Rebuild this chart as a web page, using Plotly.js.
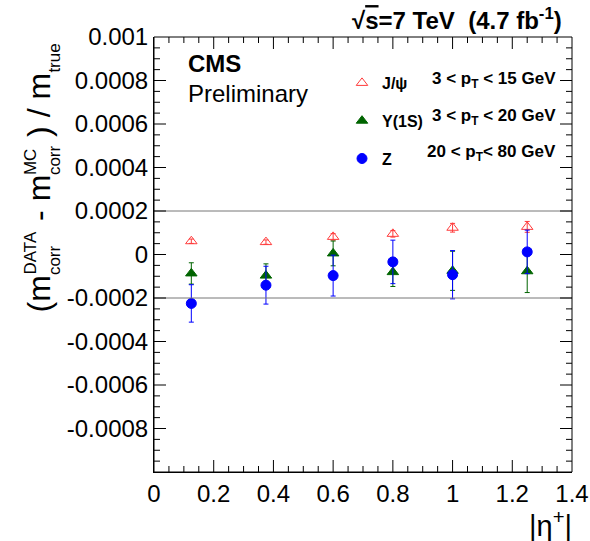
<!DOCTYPE html>
<html>
<head>
<meta charset="utf-8">
<script src="https://cdn.plot.ly/plotly-3.0.1.min.js"></script>
<style>
html, body { margin: 0; padding: 0; background: #fff; }
#chart { width: 590px; height: 541px; }
</style>
</head>
<body>
<div id="chart"></div>
<script>
// ---- data (values in units of 1e-4 are converted below) ----
const etaCenters = [0.125, 0.375, 0.6, 0.8, 1.0, 1.25];
const jpsiVals = [0.61, 0.57, 0.81, 0.95, 1.23, 1.27];
const jpsiErrs = [0.10, 0.10, 0.15, 0.15, 0.20, 0.25];
const upsVals = [-0.87, -0.97, 0.05, -0.81, -0.75, -0.77];
const upsErrs = [0.49, 0.54, 0.57, 0.66, 0.90, 0.98];
const zVals = [-2.25, -1.41, -0.97, -0.34, -0.93, 0.12];
const zErrs = [0.86, 0.87, 0.94, 1.00, 1.11, 1.00];
const valueScale = 1e-4;

const seriesNames = ['J/ψ', 'Υ(1S)', 'Z'];
const seriesRanges = ['3 < p<sub>T</sub> < 15 GeV', '3 < p<sub>T</sub> < 20 GeV', '20 < p<sub>T</sub>< 80 GeV'];

const xRange = [0, 1.4];
const yRange = [-0.001, 0.001];
const xTickVals = [0, 0.2, 0.4, 0.6, 0.8, 1, 1.2, 1.4];
const xTickText = ['0', '0.2', '0.4', '0.6', '0.8', '1', '1.2', '1.4'];
const yTickVals = [0.001, 0.0008, 0.0006, 0.0004, 0.0002, 0, -0.0002, -0.0004, -0.0006, -0.0008];
const yTickText = ['0.001', '0.0008', '0.0006', '0.0004', '0.0002', '0', '-0.0002', '-0.0004', '-0.0006', '-0.0008'];
const bandLimits = [0.0002, -0.0002];

// ---- layout geometry ----
const W = 590, H = 541;
const M = { l: 154, r: 18, t: 37, b: 69 };
const PW = W - M.l - M.r, PH = H - M.t - M.b;
const px = x => (x - M.l) / PW;
const py = y => (H - M.b - y) / PH;
const FONT = 'Liberation Sans, Arial, Helvetica, sans-serif';

const scale = a => a.map(v => v * valueScale);

function series(name, vals, errs, color, symbol, size) {
  return {
    type: 'scatter', mode: 'markers', name: '<b>' + name + '</b>',
    x: etaCenters, y: scale(vals),
    error_y: { type: 'data', array: scale(errs), visible: true, color: color, thickness: 1, width: 2.5 },
    marker: { color: color, symbol: symbol, size: size, line: { color: color, width: 1 } },
    legendgroup: name
  };
}

const traces = [
  series(seriesNames[0], jpsiVals, jpsiErrs, '#ff3b3b', 'triangle-up-open', 10),
  series(seriesNames[1], upsVals, upsErrs, '#006400', 'triangle-up', 10),
  series(seriesNames[2], zVals, zErrs, '#0000ff', 'circle', 10)
];

// y-axis title built from pieces (ROOT-style stacked sub/superscripts)
const MAINFS = 32, SUBFS = 17;
const mainX = 50 - 0.347 * MAINFS, subX = 60 - 0.347 * SUBFS, supX = 36 - 0.347 * SUBFS;
const titlePieces = [
  ['(m', 313, MAINFS, mainX],
  ['corr', 276, SUBFS, subX],
  ['DATA', 276, SUBFS, supX],
  ['- m', 222, MAINFS, mainX],
  ['corr', 176, SUBFS, subX],
  ['MC', 176, SUBFS, supX],
  [') / m', 138, MAINFS, mainX],
  ['true', 74, SUBFS, subX]
];

const annotations = titlePieces.map(p => ({
  xref: 'paper', yref: 'paper', x: px(p[3]), y: py(p[1]),
  xanchor: 'center', yanchor: 'bottom', textangle: -90,
  text: p[0], showarrow: false, borderpad: 0,
  font: { family: FONT, size: p[2], color: '#000' }
}));

annotations.push(
  { xref: 'paper', yref: 'paper', x: px(187), y: py(63.6), xanchor: 'left', yanchor: 'middle',
    text: '<b>CMS</b>', showarrow: false, borderpad: 0, font: { family: FONT, size: 24, color: '#000' } },
  { xref: 'paper', yref: 'paper', x: px(187), y: py(93.3), xanchor: 'left', yanchor: 'middle',
    text: 'Preliminary', showarrow: false, borderpad: 0, font: { family: FONT, size: 24, color: '#000' } },
  { xref: 'paper', yref: 'paper', x: px(573), y: py(524), xanchor: 'right', yanchor: 'middle',
    text: '|η<sup>+</sup>|', showarrow: false, borderpad: 0, font: { family: FONT, size: 29, color: '#000' } },
  { xref: 'paper', yref: 'paper', x: px(563), y: py(19), xanchor: 'right', yanchor: 'middle',
    text: '<b>√<span style="text-decoration:overline">s</span>=7 TeV\u00a0\u00a0(4.7 fb<sup>-1</sup>)</b>',
    showarrow: false, borderpad: 0, font: { family: FONT, size: 24, color: '#000' } }
);

const rowY = [80, 116.5, 153];
seriesRanges.forEach((t, i) => annotations.push({
  xref: 'paper', yref: 'paper', x: px(557), y: py(rowY[i]), xanchor: 'right', yanchor: 'middle',
  text: '<b>' + t + '</b>', showarrow: false, borderpad: 0, font: { family: FONT, size: 17, color: '#000' }
}));

// reference band lines
const shapes = bandLimits.map(v => ({
  type: 'line', xref: 'paper', yref: 'y', x0: 0, x1: 1, y0: v, y1: v,
  line: { color: '#777', width: 1 }
}));

// ROOT-style frame with inside ticks on all four sides
const MAJ = 12, MIN = 6;
const tickLine = { color: '#000', width: 1 };
function xTick(v, len) {
  const f = len / PH;
  shapes.push({ type: 'line', xref: 'x', yref: 'paper', x0: v, x1: v, y0: 0, y1: f, line: tickLine, layer: 'above' });
  shapes.push({ type: 'line', xref: 'x', yref: 'paper', x0: v, x1: v, y0: 1, y1: 1 - f, line: tickLine, layer: 'above' });
}
function yTick(v, len) {
  const f = len / PW;
  shapes.push({ type: 'line', xref: 'paper', yref: 'y', x0: 0, x1: f, y0: v, y1: v, line: tickLine, layer: 'above' });
  shapes.push({ type: 'line', xref: 'paper', yref: 'y', x0: 1, x1: 1 - f, y0: v, y1: v, line: tickLine, layer: 'above' });
}
for (let i = 1; i < 28; i++) {            // x: step 0.05, major every 0.2
  xTick(i * 0.05, i % 4 === 0 ? MAJ : MIN);
}
for (let i = -19; i <= 19; i++) {         // y: step 0.00005, major every 0.0002
  yTick(i * 0.00005, i % 4 === 0 ? MAJ : MIN);
}
shapes.push({ type: 'rect', xref: 'paper', yref: 'paper', x0: 0, x1: 1, y0: 0, y1: 1,
  line: { color: '#000', width: 1 }, fillcolor: 'rgba(0,0,0,0)', layer: 'above' });

const axisCommon = {
  showgrid: false, zeroline: false, showline: true, linecolor: '#000', linewidth: 1,
  ticks: '', tickfont: { family: FONT, size: 24, color: '#000' }
};

const layout = {
  width: W, height: H, margin: M,
  paper_bgcolor: '#fff', plot_bgcolor: '#fff',
  font: { family: FONT, color: '#000' },
  xaxis: Object.assign({}, axisCommon, {
    range: xRange, tickmode: 'array', tickvals: xTickVals, ticktext: xTickText
  }),
  yaxis: Object.assign({}, axisCommon, {
    range: yRange, tickmode: 'array', tickvals: yTickVals, ticktext: yTickText
  }),
  showlegend: true,
  legend: {
    x: px(342), y: py(66), xanchor: 'left', yanchor: 'top',
    bgcolor: 'rgba(0,0,0,0)', borderwidth: 0,
    traceorder: 'grouped', tracegroupgap: 14,
    font: { family: FONT, size: 16, color: '#000' }
  },
  shapes: shapes,
  annotations: annotations
};

Plotly.newPlot('chart', traces, layout, { staticPlot: true, displayModeBar: false });
</script>
</body>
</html>
